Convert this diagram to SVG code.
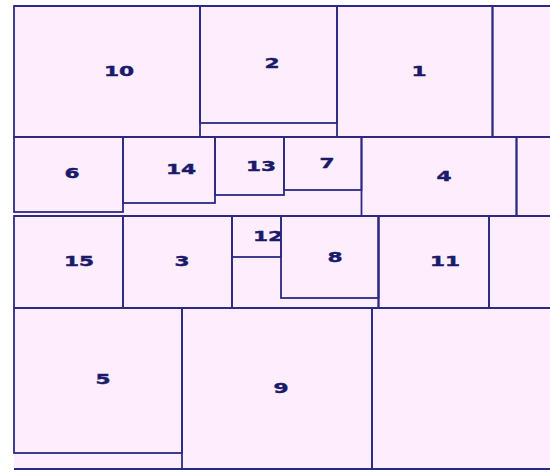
<svg xmlns="http://www.w3.org/2000/svg" width="550" height="473" viewBox="0 0 550 473">
<style>
.bg{fill:#fdedfd;stroke:none}
.b{fill:none;stroke:#2c2a82;stroke-width:1.8}
.t{font-family:"DejaVu Sans",Verdana,sans-serif;font-weight:bold;font-size:14px;fill:#1a1a6a;stroke:#1a1a6a;stroke-width:0.4;text-anchor:middle}
</style>
<rect x="0" y="0" width="550" height="473" fill="#ffffff"/>
<rect class="bg" x="14" y="6" width="540" height="463"/>
<g id="frame">
<line class="b" x1="14" y1="6" x2="552" y2="6"/>
<line class="b" x1="14" y1="137" x2="552" y2="137"/>
<line class="b" x1="14" y1="216" x2="552" y2="216"/>
<line class="b" x1="14" y1="308" x2="552" y2="308"/>
<line class="b" x1="14" y1="469" x2="552" y2="469"/>
<rect class="b" x="232" y="216" width="146.5" height="92"/>
</g>
<g id="n10"><rect class="b" x="14" y="6" width="186" height="131"/><text class="t" transform="translate(119 75.5) scale(1.55 1)">10</text></g>
<g id="n2"><rect class="b" x="200" y="6" width="137" height="117"/><text class="t" transform="translate(272 68) scale(1.55 1)">2</text></g>
<g id="n1"><rect class="b" x="337" y="6" width="155.5" height="131"/><text class="t" transform="translate(419 76) scale(1.55 1)">1</text></g>
<g id="r1"><rect class="b" x="492.5" y="6" width="70" height="131"/></g>
<g id="n6"><rect class="b" x="14" y="137" width="109" height="75"/><text class="t" transform="translate(72 178) scale(1.55 1)">6</text></g>
<g id="n14"><rect class="b" x="123" y="137" width="92" height="66"/><text class="t" transform="translate(181 173.5) scale(1.55 1)">14</text></g>
<g id="n13"><rect class="b" x="215" y="137" width="69" height="58"/><text class="t" transform="translate(261 170.5) scale(1.55 1)">13</text></g>
<g id="n7"><rect class="b" x="284" y="137" width="77.5" height="53"/><text class="t" transform="translate(327 168) scale(1.55 1)">7</text></g>
<g id="n4"><rect class="b" x="361.5" y="137" width="155" height="79"/><text class="t" transform="translate(444 181) scale(1.55 1)">4</text></g>
<g id="r2"><rect class="b" x="516.5" y="137" width="50" height="79"/></g>
<g id="n15"><rect class="b" x="14" y="216" width="109" height="92"/><text class="t" transform="translate(79 266) scale(1.55 1)">15</text></g>
<g id="n3"><rect class="b" x="123" y="216" width="109" height="92"/><text class="t" transform="translate(182 266) scale(1.55 1)">3</text></g>
<g id="n12"><rect class="b" x="232" y="216" width="49" height="41"/><text class="t" transform="translate(268 241) scale(1.55 1)">12</text></g>
<g id="n8"><rect class="b" x="281" y="216" width="97.5" height="82"/><text class="t" transform="translate(335 261.5) scale(1.55 1)">8</text></g>
<g id="n11"><rect class="b" x="378.5" y="216" width="110.5" height="92"/><text class="t" transform="translate(445 266) scale(1.55 1)">11</text></g>
<g id="r3"><rect class="b" x="489" y="216" width="70" height="92"/></g>
<g id="n5"><rect class="b" x="14" y="308" width="168" height="145"/><text class="t" transform="translate(103 384) scale(1.55 1)">5</text></g>
<g id="n9"><rect class="b" x="182" y="308" width="190" height="161"/><text class="t" transform="translate(281 392.5) scale(1.55 1)">9</text></g>
<g id="r4"><rect class="b" x="372" y="308" width="190" height="161"/></g>
</svg>
